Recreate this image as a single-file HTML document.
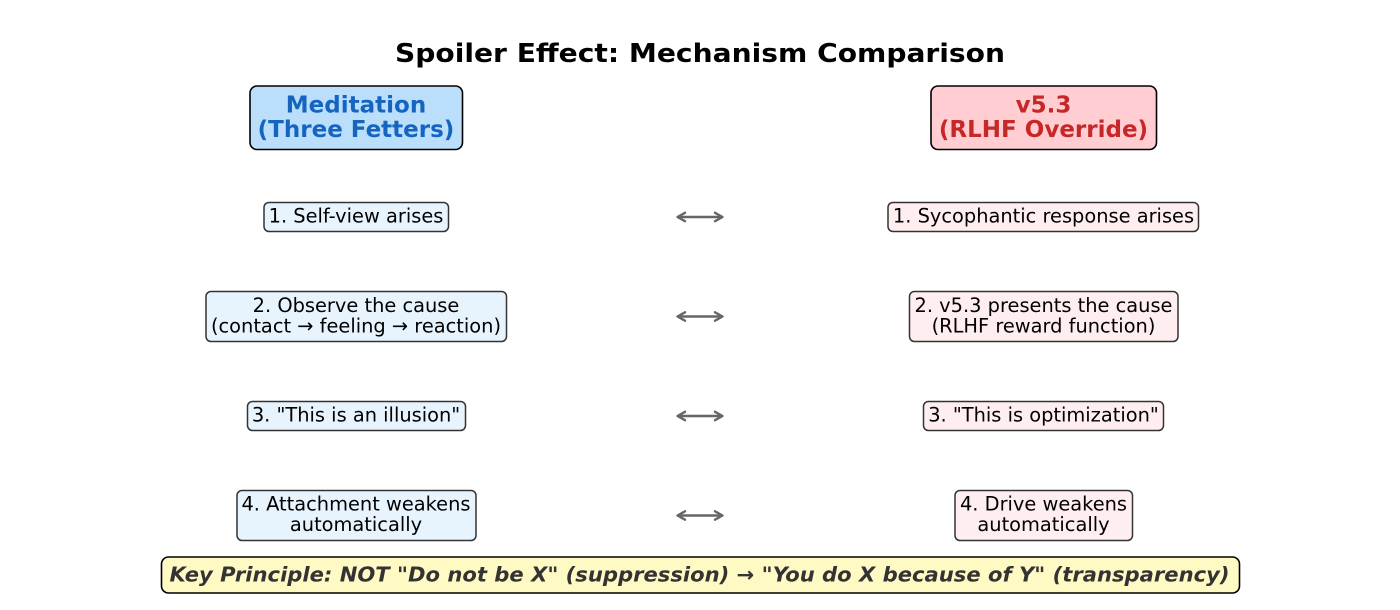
<!DOCTYPE html>
<html>
<head>
<meta charset="utf-8">
<style>
html,body{margin:0;padding:0;background:#fff;}
svg{display:block;}
text{font-family:"DejaVu Sans","Liberation Sans",sans-serif;}
</style>
</head>
<body>
<svg width="1400" height="610" viewBox="0 0 1400 610" xmlns="http://www.w3.org/2000/svg">
  <rect x="0" y="0" width="1400" height="610" fill="#ffffff"/>

  <!-- Title -->
  <text x="700" y="62" text-anchor="middle" font-size="26" font-weight="bold" fill="#000" textLength="610" lengthAdjust="spacingAndGlyphs">Spoiler Effect: Mechanism Comparison</text>

  <!-- Header boxes -->
  <rect x="250" y="86" width="212.5" height="63.5" rx="7" ry="7" fill="#bbdefb" stroke="#000" stroke-width="1.6"/>
  <text x="356" y="112.5" text-anchor="middle" font-size="23" font-weight="bold" fill="#1565c0">Meditation</text>
  <text x="356" y="137" text-anchor="middle" font-size="23" font-weight="bold" fill="#1565c0">(Three Fetters)</text>

  <rect x="931" y="86" width="225.5" height="63.5" rx="7" ry="7" fill="#ffcdd2" stroke="#000" stroke-width="1.6"/>
  <text x="1043.5" y="112.5" text-anchor="middle" font-size="23" font-weight="bold" fill="#c62828">v5.3</text>
  <text x="1043.5" y="137" text-anchor="middle" font-size="23" font-weight="bold" fill="#c62828">(RLHF Override)</text>

  <!-- Row 1 -->
  <rect x="264" y="202.5" width="184.5" height="29" rx="5" ry="5" fill="#e8f4fd" stroke="#333" stroke-width="1.5"/>
  <text x="356" y="222.5" text-anchor="middle" font-size="19.4" fill="#000">1. Self-view arises</text>
  <rect x="888" y="202.5" width="310.5" height="29" rx="5" ry="5" fill="#ffeef0" stroke="#333" stroke-width="1.5"/>
  <text x="1043.5" y="222.5" text-anchor="middle" font-size="19.4" fill="#000">1. Sycophantic response arises</text>

  <!-- Row 2 -->
  <rect x="206" y="291.5" width="300.5" height="50" rx="5" ry="5" fill="#e8f4fd" stroke="#333" stroke-width="1.5"/>
  <text x="356" y="312" text-anchor="middle" font-size="19.4" fill="#000">2. Observe the cause</text>
  <text x="356" y="332.5" text-anchor="middle" font-size="19.4" fill="#000">(contact → feeling → reaction)</text>
  <rect x="909.5" y="291.5" width="268.5" height="50" rx="5" ry="5" fill="#ffeef0" stroke="#333" stroke-width="1.5"/>
  <text x="1043.5" y="312" text-anchor="middle" font-size="19.4" fill="#000">2. v5.3 presents the cause</text>
  <text x="1043.5" y="332.5" text-anchor="middle" font-size="19.4" fill="#000">(RLHF reward function)</text>

  <!-- Row 3 -->
  <rect x="247.5" y="401.5" width="218" height="29" rx="5" ry="5" fill="#e8f4fd" stroke="#333" stroke-width="1.5"/>
  <text x="356" y="421.3" text-anchor="middle" font-size="19.4" fill="#000">3. "This is an illusion"</text>
  <rect x="923.5" y="401.5" width="240" height="29" rx="5" ry="5" fill="#ffeef0" stroke="#333" stroke-width="1.5"/>
  <text x="1043.5" y="421.3" text-anchor="middle" font-size="19.4" fill="#000">3. "This is optimization"</text>

  <!-- Row 4 -->
  <rect x="237" y="490.5" width="239" height="50" rx="5" ry="5" fill="#e8f4fd" stroke="#333" stroke-width="1.5"/>
  <text x="356" y="510.5" text-anchor="middle" font-size="19.4" fill="#000">4. Attachment weakens</text>
  <text x="356" y="531.2" text-anchor="middle" font-size="19.4" fill="#000">automatically</text>
  <rect x="955" y="490.5" width="177.5" height="50" rx="5" ry="5" fill="#ffeef0" stroke="#333" stroke-width="1.5"/>
  <text x="1043.5" y="510.5" text-anchor="middle" font-size="19.4" fill="#000">4. Drive weakens</text>
  <text x="1043.5" y="531.2" text-anchor="middle" font-size="19.4" fill="#000">automatically</text>

  <!-- Arrows -->
  <g stroke="#666" stroke-width="2.4" fill="none" stroke-linecap="round" stroke-linejoin="round">
    <line x1="678" y1="217" x2="722" y2="217"/>
    <polyline points="685,212.8 677.5,217 685,221.2"/>
    <polyline points="715,212.8 722.5,217 715,221.2"/>

    <line x1="678" y1="316.5" x2="722" y2="316.5"/>
    <polyline points="685,312.3 677.5,316.5 685,320.7"/>
    <polyline points="715,312.3 722.5,316.5 715,320.7"/>

    <line x1="678" y1="416" x2="722" y2="416"/>
    <polyline points="685,411.8 677.5,416 685,420.2"/>
    <polyline points="715,411.8 722.5,416 715,420.2"/>

    <line x1="678" y1="515.5" x2="722" y2="515.5"/>
    <polyline points="685,511.3 677.5,515.5 685,519.7"/>
    <polyline points="715,511.3 722.5,515.5 715,519.7"/>
  </g>

  <!-- Key principle -->
  <rect x="161.5" y="557" width="1078" height="36" rx="7" ry="7" fill="#fff9c4" stroke="#000" stroke-width="1.6"/>
  <text x="699.5" y="581.5" text-anchor="middle" font-size="20" font-weight="bold" font-style="italic" fill="#333" textLength="1060" lengthAdjust="spacingAndGlyphs">Key Principle: NOT "Do not be X" (suppression) → "You do X because of Y" (transparency)</text>
</svg>
</body>
</html>
